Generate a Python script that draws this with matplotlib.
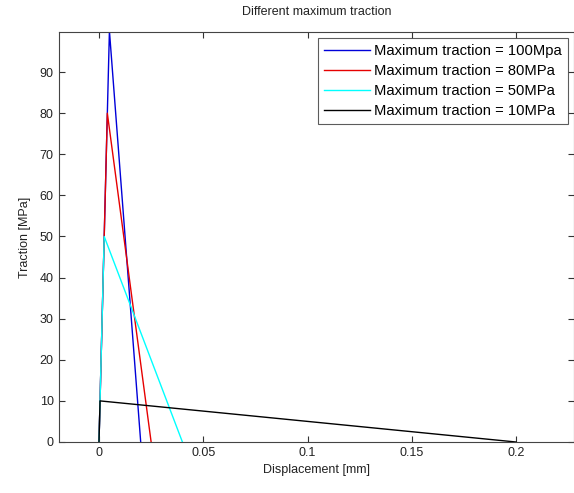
import matplotlib
matplotlib.use("Agg")
import matplotlib.pyplot as plt

# Data: piecewise-linear traction-separation laws
disp_100 = [0.0, 0.005, 0.02]
trac_100 = [0.0, 100.0, 0.0]
disp_80 = [0.0, 0.004, 0.025]
trac_80 = [0.0, 80.0, 0.0]
disp_50 = [0.0, 0.0025, 0.04]
trac_50 = [0.0, 50.0, 0.0]
disp_10 = [0.0, 0.0005, 0.2]
trac_10 = [0.0, 10.0, 0.0]

labels = ["Maximum traction = 100Mpa", "Maximum traction = 80MPa",
          "Maximum traction = 50MPa", "Maximum traction = 10MPa"]
xticks = [0, 0.05, 0.1, 0.15, 0.2]
xticklabels = ["0", "0.05", "0.1", "0.15", "0.2"]
yticks = [0, 10, 20, 30, 40, 50, 60, 70, 80, 90]

plt.rcParams['font.family'] = ['Liberation Sans', 'DejaVu Sans']
fig = plt.figure(figsize=(5.74, 4.93), dpi=100)
W, H = 574, 493
x0, x1 = 58.5, 574
y0, y1 = 442, 32
ax = fig.add_axes([x0 / W, 1 - y0 / H, (x1 - x0) / W, (y0 - y1) / H])

ax.plot(disp_100, trac_100, color=(0, 0, 0.85), lw=1.0, label=labels[0])
ax.plot(disp_80, trac_80, color=(0.9, 0, 0), lw=1.0, label=labels[1])
ax.plot(disp_50, trac_50, color=(0, 1, 1), lw=1.0, label=labels[2])
ax.plot(disp_10, trac_10, color='black', lw=1.0, label=labels[3])

px = 2085.0  # pixels per unit x
ax.set_xlim((x0 - 99) / px, (x1 - 99) / px)
ax.set_ylim(0, (y0 - y1) / 4.11)
ax.set_xticks(xticks)
ax.set_xticklabels(xticklabels)
ax.set_yticks(yticks)
ax.tick_params(direction='in', top=True, right=True, labelsize=9,
               length=4, width=0.8, colors='#333333', labelcolor='#222222')
for s in ax.spines.values():
    s.set_color('#444444')
    s.set_linewidth(0.8)

ax.set_xlabel("Displacement [mm]", fontsize=9, color='#222222', labelpad=4)
ax.set_ylabel("Traction [MPa]", fontsize=9, color='#222222', labelpad=6)
ax.set_title("Different maximum traction", fontsize=9, color='#222222', pad=12)

leg = ax.legend(loc='upper left', bbox_to_anchor=((318 - x0) / (x1 - x0), (y0 - 38) / (y0 - y1)),
                fontsize=10.6, frameon=True, fancybox=False, handlelength=3.1,
                borderpad=0.4, labelspacing=0.42, handletextpad=0.3, borderaxespad=0)
leg.get_frame().set_edgecolor('#333333')
leg.get_frame().set_linewidth(0.8)

fig.savefig("out.png", dpi=100)
